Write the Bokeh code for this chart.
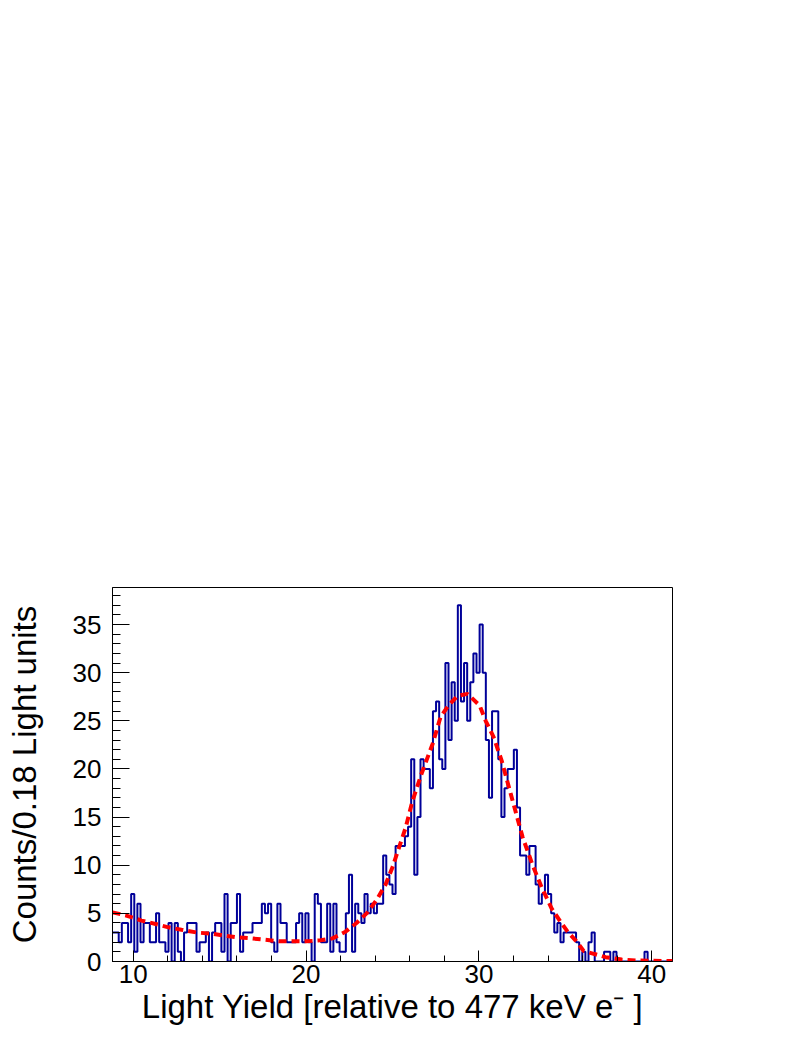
import numpy as np
from bokeh.plotting import figure
from bokeh.models import Range1d, FixedTicker
from bokeh.embed import file_html
from bokeh.resources import INLINE

# ---------------- data ----------------
bin_low = 8.8
bin_width = 0.18

counts = [
    3, 3, 2, 4, 4, 2, 7, 1, 6, 2,
    4, 4, 2, 2, 5, 2, 2, 1, 4, 0,
    4, 1, 0, 3, 4, 4, 4, 1, 2, 2,
    3, 0, 3, 4, 4, 1, 7, 0, 4, 4,
    7, 1, 3, 3, 3, 4, 4, 4, 6, 5,
    6, 2, 1, 6, 4, 4, 2, 2, 2, 4,
    5, 2, 5, 2, 0, 7, 6, 2, 2, 6,
    1, 6, 2, 1, 1, 5, 9, 1, 6, 5,
    4, 7, 5, 6, 5, 6, 6, 11, 9, 8,
    7, 12, 12, 12, 13, 14, 21, 9, 15, 21,
    20, 20, 18, 26, 27, 21, 20, 31, 23, 29,
    25, 37, 27, 31, 25, 29, 32, 30, 35, 30,
    23, 17, 26, 26, 21, 15, 18, 20, 20, 22,
    16, 11, 11, 9, 12, 12, 8, 6, 7, 9,
    7, 5, 3, 4, 2, 3, 3, 3, 3, 2,
    0, 1, 0, 2, 3, 0, 0, 0, 1, 1,
    0, 1, 0, 0, 0, 0, 0, 0, 0, 0,
    0, 1, 0, 0, 0, 0, 0, 0, 0, 0,
]

fit_x = [8.80, 9.55, 10.48, 11.29, 12.04, 12.79, 13.72, 14.47, 15.22, 16.09,
         16.84, 17.65, 18.46, 19.27, 20.03, 20.84, 21.53, 22.28, 22.92, 23.56,
         24.08, 24.60, 25.00, 25.76, 26.16, 26.68, 27.32, 27.78, 28.24, 28.77,
         29.34, 30.04, 30.39, 30.85, 31.31, 31.95, 32.53, 33.11, 33.63, 34.21,
         34.73, 35.13, 35.59, 36.06, 36.64, 37.33, 38.26, 39.07, 41.20]
fit_y = [5.1, 4.8, 4.25, 3.9, 3.55, 3.3, 3.0, 2.9, 2.7, 2.5,
         2.4, 2.25, 2.1, 2.1, 2.1, 2.2, 2.4, 3.1, 4.0, 5.1,
         6.4, 8.0, 9.8, 13.9, 16.7, 19.5, 22.6, 25.4, 26.6, 27.6,
         27.8, 26.6, 25.0, 23.3, 20.9, 16.7, 12.9, 10.0, 7.7, 5.5,
         4.1, 3.1, 2.2, 1.1, 0.8, 0.45, 0.2, 0.1, 0.05]

x_ticks = [10, 20, 30, 40]
x_minor = [10, 12, 14, 16, 18, 20, 22, 24, 26, 28, 30, 32, 34, 36, 38, 40]
y_ticks = [0, 5, 10, 15, 20, 25, 30, 35]
y_minor = [0, 1, 2, 3, 4, 5, 6, 7, 8, 9, 10, 11, 12, 13, 14, 15, 16, 17, 18, 19,
           20, 21, 22, 23, 24, 25, 26, 27, 28, 29, 30, 31, 32, 33, 34, 35, 36, 37, 38]

x_title = "Light Yield [relative to 477 keV e\u207b ]"
y_title = "Counts/0.18 Light units"

# ---------------- figure ----------------
FONT = "Liberation Sans"
p = figure(width=790, height=1036,
           x_range=Range1d(8.8, 41.2), y_range=Range1d(0, 38.85),
           output_backend="svg", toolbar_location=None,
           min_border_left=112, min_border_right=118,
           min_border_top=587, min_border_bottom=75)
p.xgrid.visible = False
p.ygrid.visible = False
p.outline_line_color = "black"
p.outline_line_width = 1
p.outline_line_alpha = 1.0
p.background_fill_color = "white"
p.border_fill_color = "white"

edges = bin_low + bin_width * np.arange(len(counts) + 1)
p.step(x=list(edges), y=counts + [counts[-1]], mode="after",
       line_color="#000099", line_width=2)

p.line(x=fit_x, y=fit_y, line_color="#ff0000", line_width=4,
       line_dash="8 5")

xa = p.xaxis[0]
xa.ticker = FixedTicker(ticks=x_ticks, minor_ticks=x_minor)
xa.major_tick_in = 11
xa.major_tick_out = 0
xa.minor_tick_in = 6
xa.minor_tick_out = 0
xa.major_label_standoff = 3
xa.axis_label = x_title
xa.axis_label_standoff = 2

ya = p.yaxis[0]
ya.ticker = FixedTicker(ticks=y_ticks, minor_ticks=y_minor)
ya.major_tick_in = 17
ya.major_tick_out = 0
ya.minor_tick_in = 8
ya.minor_tick_out = 0
ya.major_label_standoff = 11
ya.axis_label = y_title
ya.axis_label_standoff = 27

for ax in (xa, ya):
    ax.axis_line_color = "black"
    ax.major_tick_line_color = "black"
    ax.minor_tick_line_color = "black"
    ax.major_label_text_font = FONT
    ax.major_label_text_font_size = "26px"
    ax.major_label_text_color = "black"
    ax.axis_label_text_font = FONT
    ax.axis_label_text_font_size = "33px"
    ax.axis_label_text_font_style = "normal"
    ax.axis_label_text_color = "black"

open("out.html", "w").write(file_html(p, INLINE))
